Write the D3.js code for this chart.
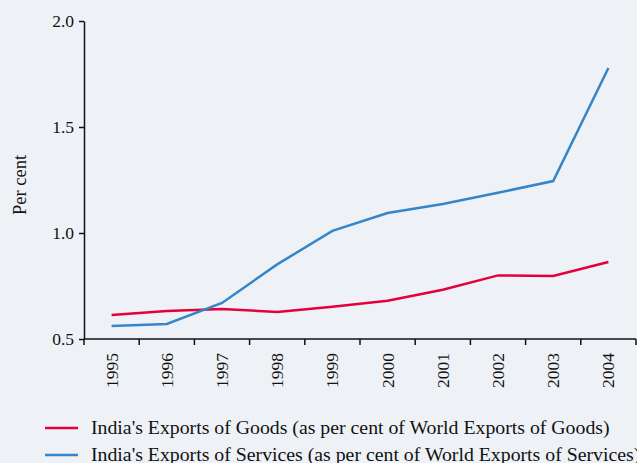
<!DOCTYPE html>
<html>
<head>
<meta charset="utf-8">
<title>India's Exports</title>
<script src="https://d3js.org/d3.v7.min.js"></script>
<style>
    body { margin: 0; background: #eef2f6; }
    svg { display: block; font-family: "Liberation Serif", "Times New Roman", serif; }
</style>
</head>
<body>
<div id="chart"></div>
<script>
    // data
    var years = ["1995", "1996", "1997", "1998", "1999", "2000", "2001", "2002", "2003", "2004"];
    var goods = [0.613, 0.632, 0.642, 0.627, 0.652, 0.680, 0.732, 0.800, 0.797, 0.863];
    var services = [0.561, 0.571, 0.670, 0.852, 1.010, 1.094, 1.137, 1.190, 1.245, 1.778];
    var yTicks = [0.5, 1.0, 1.5, 2.0];
    var seriesNames = [
        "India's Exports of Goods (as per cent of World Exports of Goods)",
        "India's Exports of Services (as per cent of World Exports of Services)"
    ];
    var seriesColors = ["#e4003b", "#3585c8"];

    var W = 637, H = 463;
    var margin = { left: 84, right: 636, top: 21, bottom: 339 };

    var svg = d3.select("#chart").append("svg")
        .attr("width", W)
        .attr("height", H);

    svg.append("rect").attr("width", W).attr("height", H).attr("fill", "#eef2f6");

    var x = d3.scaleBand().domain(years).range([margin.left, margin.right]);
    var y = d3.scaleLinear().domain([0.5, 2.0]).range([margin.bottom, margin.top]);

    // y axis
    var yAxis = svg.append("g")
        .attr("transform", "translate(" + margin.left + ",0)")
        .call(d3.axisLeft(y).tickValues(yTicks).tickFormat(d3.format(".1f")).tickSize(5).tickSizeOuter(0));
    yAxis.selectAll("text")
        .attr("font-size", 17.5)
        .attr("fill", "#111")
        .attr("font-family", "Liberation Serif")
        .attr("dx", "-2");
    yAxis.select(".domain").attr("stroke", "#111").attr("stroke-width", 1.5);
    yAxis.selectAll(".tick line").attr("stroke", "#111").attr("stroke-width", 1.5);

    // x axis: ticks at band boundaries, labels rotated
    var xAxis = svg.append("g")
        .attr("transform", "translate(0," + margin.bottom + ")");
    xAxis.append("line")
        .attr("x1", margin.left).attr("x2", margin.right)
        .attr("stroke", "#111").attr("stroke-width", 1.5);
    var bounds = years.map(function (d) { return x(d); }).concat([x(years[years.length - 1]) + x.bandwidth()]);
    xAxis.selectAll(".tk").data(bounds).enter().append("line")
        .attr("x1", function (d) { return d; }).attr("x2", function (d) { return d; })
        .attr("y1", 0).attr("y2", 6)
        .attr("stroke", "#111").attr("stroke-width", 1.5);
    xAxis.selectAll(".lbl").data(years).enter().append("text")
        .attr("transform", function (d) {
            return "translate(" + (x(d) + x.bandwidth() / 2 + 6) + ",14) rotate(-90)";
        })
        .attr("text-anchor", "end")
        .attr("font-size", 17.5)
        .attr("fill", "#111")
        .text(function (d) { return d; });

    // y label
    svg.append("text")
        .attr("transform", "translate(26,185) rotate(-90)")
        .attr("text-anchor", "middle")
        .attr("font-size", 18.5)
        .attr("fill", "#111")
        .text("Per cent");

    // lines
    var line = d3.line()
        .x(function (d, i) { return x(years[i]) + x.bandwidth() / 2; })
        .y(function (d) { return y(d); });

    [goods, services].forEach(function (s, i) {
        svg.append("path")
            .datum(s)
            .attr("fill", "none")
            .attr("stroke", seriesColors[i])
            .attr("stroke-width", 2.5)
            .attr("d", line);
    });

    // legend
    var legend = svg.append("g");
    seriesNames.forEach(function (name, i) {
        var ly = 428 + i * 27;
        legend.append("line")
            .attr("x1", 45).attr("x2", 78)
            .attr("y1", ly).attr("y2", ly)
            .attr("stroke", seriesColors[i]).attr("stroke-width", 2.5);
        legend.append("text")
            .attr("x", 91).attr("y", ly + 6)
            .attr("font-size", 19.8)
            .attr("fill", "#111")
            .text(name);
    });
</script>
</body>
</html>
